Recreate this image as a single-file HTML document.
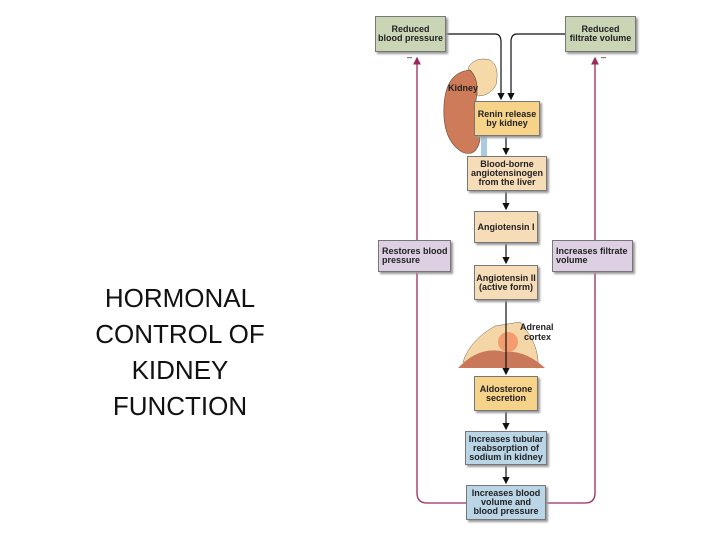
<!DOCTYPE html>
<html><head><style>
body{margin:0;width:720px;height:540px;background:#fff;position:relative;overflow:hidden;font-family:"Liberation Sans",sans-serif}
.t{position:absolute;left:60px;width:240px;top:280px;text-align:center;font-size:26px;line-height:36px;color:#111}
.b{position:absolute;box-sizing:border-box;border:1px solid #777;box-shadow:2px 2px 2px #999;font-size:9px;font-weight:bold;line-height:9px;text-align:center;display:flex;align-items:center;justify-content:center;color:#222}
.g{background:#c9d5b5}.o{background:#f7d38a}.p{background:#f7dcb8}.l{background:#dcd0e2;text-align:left;justify-content:flex-start;padding-left:3px}.u{background:#b9d5e6}
</style></head><body>
<div class="t">HORMONAL<br>CONTROL OF<br>KIDNEY<br>FUNCTION</div>
<svg width="720" height="540" style="position:absolute;left:0;top:0">
<defs><marker id="a" markerWidth="6" markerHeight="6" refX="5" refY="3" orient="auto"><path d="M0,0L6,3L0,6z" fill="#111"/></marker>
<marker id="m" markerWidth="6" markerHeight="6" refX="5" refY="3" orient="auto"><path d="M0,0L6,3L0,6z" fill="#9b2a5c"/></marker></defs>
<path d="M468,68Q475,56 490,60Q500,66 496,85Q490,96 478,96Z" fill="#f6d9a8" stroke="#765" stroke-width=".5"/>
<path d="M470,70Q446,72 444,105Q442,140 462,152Q476,158 480,140Q478,124 476,100Q480,80 470,70Z" fill="#cd7b59" stroke="#643" stroke-width=".6"/>
<rect x="481" y="136" width="6" height="20" fill="#a9cbe3"/>
<path d="M463,362Q470,340 495,326L520,322Q540,345 538,368Z" fill="#f5d6a6" stroke="#765" stroke-width=".5"/>
<path d="M458,368Q480,345 505,352Q525,350 545,368Z" fill="#c9785a"/>
<circle cx="508" cy="342" r="10" fill="#f07040" opacity=".55"/>
<g stroke="#111" stroke-width="1.2" fill="none">
<path d="M446,34H495Q501,34 501,42V99" marker-end="url(#a)"/>
<path d="M565,34H517Q511,34 511,42V99" marker-end="url(#a)"/>
<path d="M506,136V154" marker-end="url(#a)"/>
<path d="M506,191V209" marker-end="url(#a)"/>
<path d="M506,243V263" marker-end="url(#a)"/>
<path d="M506,300V374" marker-end="url(#a)"/>
<path d="M506,411V429" marker-end="url(#a)"/>
<path d="M506,465V483" marker-end="url(#a)"/>
</g>
<g stroke="#9b2a5c" stroke-width="1.3" fill="none">
<path d="M466,503H427Q417,503 417,493V58" marker-end="url(#m)"/>
<path d="M546,503H585Q595,503 595,493V58" marker-end="url(#m)"/>
</g>
<text x="407" y="60" font-size="9">–</text><text x="601" y="60" font-size="9">–</text>
<g font-size="9" font-weight="bold" font-family="Liberation Sans,sans-serif" fill="#222">
<text x="448" y="91">Kidney</text>
<text x="520" y="330">Adrenal</text><text x="524" y="340">cortex</text>
</g>
</svg>
<div class="b g" style="left:375px;top:16px;width:71px;height:36px">Reduced<br>blood pressure</div>
<div class="b g" style="left:565px;top:16px;width:71px;height:36px">Reduced<br>filtrate volume</div>
<div class="b o" style="left:474px;top:101px;width:66px;height:35px">Renin release<br>by kidney</div>
<div class="b p" style="left:467px;top:156px;width:80px;height:35px">Blood-borne<br>angiotensinogen<br>from the liver</div>
<div class="b p" style="left:474px;top:211px;width:64px;height:32px">Angiotensin I</div>
<div class="b l" style="left:378px;top:240px;width:73px;height:32px">Restores blood<br>pressure</div>
<div class="b l" style="left:552px;top:240px;width:81px;height:32px">Increases filtrate<br>volume</div>
<div class="b p" style="left:474px;top:265px;width:64px;height:35px">Angiotensin II<br>(active form)</div>
<div class="b o" style="left:474px;top:376px;width:64px;height:35px">Aldosterone<br>secretion</div>
<div class="b u" style="left:465px;top:431px;width:82px;height:34px">Increases tubular<br>reabsorption of<br>sodium in kidney</div>
<div class="b u" style="left:466px;top:485px;width:80px;height:35px">Increases blood<br>volume and<br>blood pressure</div>
</body></html>
